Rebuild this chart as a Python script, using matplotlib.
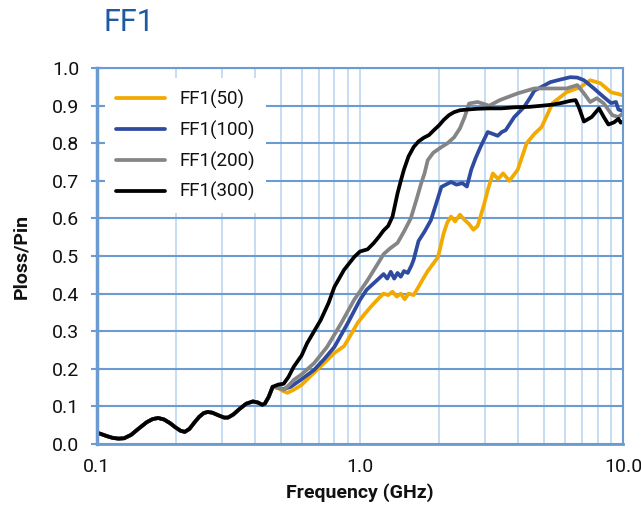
import numpy as np
import matplotlib
matplotlib.use("Agg")
import matplotlib.pyplot as plt
from matplotlib.ticker import FixedLocator, FixedFormatter, NullFormatter

plt.rcParams['font.family'] = ['Roboto', 'DejaVu Sans']

# shared low-frequency part (all four curves lie on top of each other)
f_common = [0.1, 0.105, 0.11, 0.115, 0.121, 0.127, 0.135, 0.145, 0.155, 0.163, 0.171,
            0.18, 0.19, 0.2, 0.208, 0.216, 0.225, 0.235, 0.245, 0.255, 0.264, 0.275,
            0.29, 0.305, 0.315, 0.33, 0.35, 0.37, 0.392, 0.41, 0.425, 0.435, 0.45, 0.466]
y_common = [0.030, 0.025, 0.020, 0.016, 0.014, 0.015, 0.024, 0.042, 0.058, 0.066, 0.069,
            0.065, 0.055, 0.043, 0.035, 0.032, 0.040, 0.057, 0.072, 0.082, 0.085, 0.083,
            0.076, 0.070, 0.070, 0.078, 0.094, 0.107, 0.113, 0.110, 0.104, 0.107, 0.125, 0.152]

f_300 = [0.49, 0.513, 0.535, 0.56, 0.6, 0.63, 0.67, 0.71, 0.76, 0.8, 0.87, 0.95, 1.0, 1.07,
         1.13, 1.18, 1.23, 1.28, 1.33, 1.39, 1.43, 1.47, 1.53, 1.6, 1.67, 1.75, 1.83, 1.91,
         2.0, 2.08, 2.18, 2.28, 2.4, 2.57, 2.8, 3.1, 3.44, 3.9, 4.4, 4.9, 5.4, 5.8, 6.3, 6.6,
         6.8, 7.1, 7.6, 8.1, 8.45, 8.8, 9.25, 9.6, 9.8, 10.0]
y_300 = [0.158, 0.160, 0.178, 0.205, 0.235, 0.268, 0.30, 0.33, 0.375, 0.418, 0.463, 0.497,
         0.512, 0.518, 0.535, 0.551, 0.568, 0.58, 0.605, 0.667, 0.70, 0.73, 0.765, 0.79,
         0.805, 0.815, 0.822, 0.835, 0.848, 0.862, 0.875, 0.883, 0.888, 0.89, 0.892, 0.893,
         0.893, 0.896, 0.897, 0.90, 0.903, 0.907, 0.913, 0.915, 0.895, 0.858, 0.87, 0.893,
         0.87, 0.85, 0.856, 0.865, 0.855, 0.858]

f_200 = [0.49, 0.513, 0.54, 0.56, 0.6, 0.67, 0.75, 0.85, 0.95, 1.07, 1.18, 1.23, 1.3, 1.39,
         1.47, 1.56, 1.64, 1.71, 1.76, 1.81, 1.9, 2.04, 2.15, 2.28, 2.4, 2.5, 2.6, 2.8, 2.95,
         3.1, 3.4, 3.98, 4.6, 5.3, 6.1, 6.7, 7.1, 7.5, 7.95, 8.45, 9.1, 9.6, 10.0]
y_200 = [0.150, 0.144, 0.158, 0.17, 0.185, 0.215, 0.258, 0.322, 0.383, 0.436, 0.484, 0.505,
         0.52, 0.535, 0.565, 0.60, 0.65, 0.694, 0.72, 0.755, 0.775, 0.79, 0.80, 0.816, 0.84,
         0.87, 0.906, 0.91, 0.905, 0.90, 0.915, 0.933, 0.946, 0.946, 0.946, 0.955, 0.933,
         0.91, 0.92, 0.906, 0.875, 0.87, 0.88]

f_100 = [0.49, 0.513, 0.546, 0.6, 0.67, 0.73, 0.8, 0.9, 1.0, 1.06, 1.13, 1.18, 1.23, 1.27,
         1.31, 1.35, 1.39, 1.43, 1.47, 1.52, 1.57, 1.6, 1.67, 1.76, 1.86, 1.95, 2.04, 2.12,
         2.22, 2.33, 2.45, 2.55, 2.65, 2.75, 2.87, 3.06, 3.2, 3.34, 3.46, 3.58, 3.86, 4.2,
         4.45, 4.6, 5.3, 5.8, 6.3, 6.7, 7.1, 7.75, 8.45, 9.0, 9.4, 9.6, 10.0]
y_100 = [0.150, 0.146, 0.152, 0.172, 0.197, 0.225, 0.258, 0.322, 0.383, 0.41, 0.428, 0.44,
         0.452, 0.44, 0.458, 0.44, 0.455, 0.445, 0.46, 0.455, 0.475, 0.49, 0.54, 0.565,
         0.595, 0.64, 0.684, 0.69, 0.697, 0.69, 0.694, 0.685, 0.73, 0.76, 0.79, 0.83, 0.825,
         0.82, 0.83, 0.835, 0.87, 0.896, 0.923, 0.94, 0.963, 0.97, 0.976, 0.975, 0.968,
         0.946, 0.923, 0.907, 0.91, 0.89, 0.886]

f_50 = [0.49, 0.513, 0.53, 0.56, 0.6, 0.67, 0.75, 0.8, 0.87, 0.9, 0.98, 1.04, 1.1, 1.18,
        1.23, 1.28, 1.33, 1.38, 1.43, 1.48, 1.53, 1.6, 1.67, 1.74, 1.81, 1.9, 1.98, 2.08,
        2.15, 2.22, 2.3, 2.4, 2.5, 2.6, 2.7, 2.8, 2.87, 2.97, 3.06, 3.2, 3.35, 3.5, 3.7,
        3.98, 4.3, 4.6, 4.9, 5.4, 6.1, 6.9, 7.5, 8.2, 9.0, 10.0]
y_50 = [0.148, 0.140, 0.136, 0.144, 0.157, 0.19, 0.223, 0.242, 0.26, 0.277, 0.322, 0.345,
        0.365, 0.388, 0.40, 0.396, 0.405, 0.392, 0.40, 0.385, 0.40, 0.396, 0.418, 0.44,
        0.46, 0.48, 0.497, 0.56, 0.59, 0.605, 0.592, 0.61, 0.596, 0.585, 0.57, 0.58, 0.604,
        0.64, 0.675, 0.72, 0.705, 0.72, 0.70, 0.73, 0.80, 0.825, 0.843, 0.907, 0.936, 0.95,
        0.968, 0.96, 0.936, 0.928]

labels = ['FF1(50)', 'FF1(100)', 'FF1(200)', 'FF1(300)']
colors = ['#f2aa00', '#2f4b9f', '#858585', '#000000']
series = [(f_50, y_50), (f_100, y_100), (f_200, y_200), (f_300, y_300)]

blue = '#6b9bd1'
light = '#bdd7ef'
ink = '#111111'

fig = plt.figure(figsize=(6.41, 5.05), dpi=100)
ax = fig.add_axes([0.151, 0.121, 0.821, 0.744])

for (f, y), lab, c in zip(series, labels, colors):
    ax.plot(f_common + f, y_common + y, color=c, lw=2.7, label=lab,
            solid_joinstyle='round', solid_capstyle='round')

ax.set_xscale('log')
ax.set_xlim(0.1, 10)
ax.set_ylim(0, 1.0)

ax.xaxis.set_major_locator(FixedLocator([0.1, 1, 10]))
ax.xaxis.set_major_formatter(FixedFormatter(['0.1', '1.0', '10.0']))
minors = [m * d for d in (0.1, 1) for m in range(2, 10)]
ax.xaxis.set_minor_locator(FixedLocator(minors))
ax.xaxis.set_minor_formatter(NullFormatter())
ax.set_yticks(np.arange(0, 1.01, 0.1))
ax.set_yticklabels(['%.1f' % v for v in np.arange(0, 1.01, 0.1)])

ax.grid(True, which='both', axis='x', color=light, lw=1.2)
ax.grid(True, which='major', axis='y', color=blue, lw=1.5)
ax.set_axisbelow(True)

for s in ax.spines.values():
    s.set_color(blue)
    s.set_linewidth(1.5)
ax.spines['left'].set_linewidth(2.5)
ax.spines['bottom'].set_linewidth(2.0)

ax.tick_params(axis='x', which='both', length=0, pad=10, labelsize=14, colors=ink)
ax.tick_params(axis='y', which='major', direction='inout', length=9, width=1.5,
               color=blue, pad=8, labelsize=14, labelcolor=ink)

ax.set_xlabel('Frequency (GHz)', fontsize=14, fontweight='bold', labelpad=5, color=ink)
ax.set_ylabel('Ploss/Pin', fontsize=14, fontweight='bold', labelpad=16, color=ink)

fig.text(0.162, 0.955, 'FF1', fontsize=22, color='#1f5aa0', va='center', ha='left')

leg = ax.legend(loc='upper left', bbox_to_anchor=(0.0, 0.995), frameon=True,
                fontsize=13.5, handlelength=2.6, handletextpad=0.75, labelspacing=0.62,
                borderpad=0.6, borderaxespad=0.45)
leg.get_frame().set_facecolor('white')
leg.get_frame().set_edgecolor('none')
leg.get_frame().set_alpha(1.0)
leg.get_frame().set_boxstyle('square', pad=0.0)
for h in leg.get_lines():
    h.set_linewidth(2.7)
for t in leg.get_texts():
    t.set_color(ink)

fig.savefig('out.png', dpi=100)
